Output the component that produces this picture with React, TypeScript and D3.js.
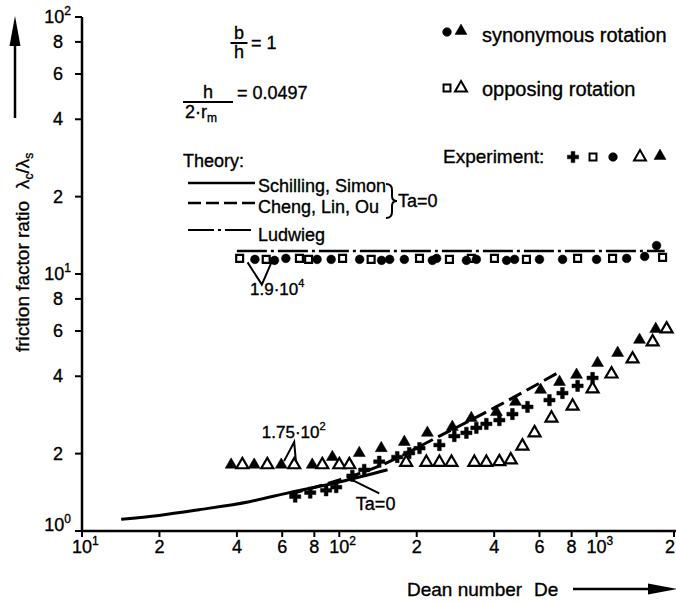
import React, { useEffect, useRef } from "react";
import * as d3 from "d3";

// values: [Dean number, lambda_c / lambda_s]
const upperOpenSquares: [number, number][] = [
	[41, 11.5], [52, 11.4], [70, 11.5], [76, 11.4], [103, 11.5], [133, 11.4],
	[205, 11.5], [268, 11.4], [326, 11.5], [401, 11.5], [534, 11.4], [844, 11.5],
	[1154, 11.5], [1806, 11.6],
];
const upperFilledCircles: [number, number][] = [
	[47, 11.4], [56, 11.3], [62, 11.5], [82, 11.4], [93, 11.4], [120, 11.4],
	[146, 11.3], [157, 11.4], [179, 11.4], [230, 11.3], [239, 11.5], [312, 11.3],
	[341, 11.4], [447, 11.3], [480, 11.4], [600, 11.4], [738, 11.4], [1000, 11.4],
	[1309, 11.5], [1538, 11.7], [1711, 12.9],
];
const lowerFilledTriangles: [number, number][] = [
	[38, 1.81], [46.7, 1.81], [59.5, 1.81], [78.5, 1.81], [94, 1.94], [119.6, 2.01],
	[145.6, 2.1], [179, 2.22], [220, 2.41], [275, 2.54], [326, 2.75], [408, 2.9],
	[484, 3.18], [606, 3.54], [718, 3.8], [836, 4.05], [1009, 4.5], [1208, 4.93],
	[1469, 5.54], [1698, 6.11],
];
const lowerOpenTriangles: [number, number][] = [
	[42, 1.81], [52.5, 1.81], [66.8, 1.81], [85.9, 1.81], [100, 1.81], [109.4, 1.81],
	[182, 1.85], [218, 1.85], [245, 1.85], [273, 1.85], [335, 1.85], [373, 1.85],
	[419, 1.86], [464, 1.89], [515, 2.14], [574, 2.41], [668, 2.75], [807, 3.06],
	[965, 3.57], [1143, 4.08], [1380, 4.67], [1652, 5.44], [1872, 6.11],
];
const crosses: [number, number][] = [
	[67.4, 1.36], [77.1, 1.41], [88.9, 1.44], [97.3, 1.48], [112.4, 1.64], [125, 1.73],
	[143, 1.86], [168, 1.94], [187, 2.01], [205, 2.1], [245, 2.16], [280, 2.34],
	[312, 2.41], [341, 2.52], [373, 2.61], [419, 2.7], [471, 2.85], [539, 3.04],
	[656, 3.23], [737, 3.44], [844, 3.67], [965, 3.94],
];

// theory curves
const schillingSimon: [number, number][] = [
	[14.2, 1.11], [19.9, 1.15], [28.5, 1.21], [44.7, 1.3], [63.9, 1.41], [100, 1.55], [154, 1.73],
];
const chengLinOu: [number, number][] = [
	[64, 1.39], [100, 1.58], [143, 1.79], [245, 2.34], [419, 3.09], [718, 4.16],
];
const ludwieg: [number, number][] = [
	[40, 12.3], [1840, 12.3],
];

const xTicks = [10, 20, 40, 60, 80, 100, 200, 400, 600, 800, 1000, 2000];
const xTickLabels = ["10^1", "2", "4", "6", "8", "10^2", "2", "4", "6", "8", "10^3", "2"];
const yTicks = [1, 2, 4, 6, 8, 10, 20, 40, 60, 80, 100];
const yTickLabels = ["10^0", "2", "4", "6", "8", "10^1", "2", "4", "6", "8", "10^2"];

const FONT = "'Liberation Sans', Arial, sans-serif";

export default function App() {
	const ref = useRef<SVGSVGElement>(null);

	useEffect(() => {
		const svg = d3.select(ref.current);
		svg.selectAll("*").remove();

		const x = d3.scaleLog().domain([10, 2000]).range([82, 674]);
		const y = d3.scaleLog().domain([1, 100]).range([531, 17]);

		const sym = (type: any, size: number) => d3.symbol().type(type).size(size)();
		const tri = sym(d3.symbolTriangle, 62);
		const circ = sym(d3.symbolCircle, 60);
		const sq = sym(d3.symbolSquare, 48);
		const cross = sym(d3.symbolCross, 70);

		// axes
		svg.append("line")
			.attr("x1", x(10)).attr("x2", 676)
			.attr("y1", y(1)).attr("y2", y(1))
			.attr("stroke", "#000").attr("stroke-width", 2.5);
		svg.append("line")
			.attr("x1", x(10)).attr("x2", x(10))
			.attr("y1", y(1) + 1).attr("y2", y(100))
			.attr("stroke", "#000").attr("stroke-width", 2.5);

		svg.selectAll(".xtick")
			.data(xTicks)
			.join("line")
			.attr("x1", (d) => x(d)).attr("x2", (d) => x(d))
			.attr("y1", y(1)).attr("y2", y(1) + 6)
			.attr("stroke", "#000").attr("stroke-width", 2);
		svg.selectAll(".ytick")
			.data(yTicks)
			.join("line")
			.attr("x1", x(10) - 7).attr("x2", x(10))
			.attr("y1", (d) => y(d)).attr("y2", (d) => y(d))
			.attr("stroke", "#000").attr("stroke-width", 2);

		const power = (t: any, label: string, supSize: number) => {
			const [base, exp] = label.split("^");
			t.append("tspan").text(base);
			if (exp) {
				t.append("tspan").text(exp).attr("font-size", supSize).attr("dy", -8);
			}
		};

		xTicks.forEach((v, i) => {
			const label = xTickLabels[i];
			const last = i === xTicks.length - 1;
			const t = svg.append("text")
				.attr("y", 553)
				.attr("font-size", 18)
				.attr("x", label.includes("^") ? x(v) - 10 : last ? 675 : x(v))
				.attr("text-anchor", label.includes("^") ? "start" : last ? "end" : "middle");
			power(t, label, 12);
		});
		yTicks.forEach((v, i) => {
			const label = yTickLabels[i];
			const t = svg.append("text")
				.attr("y", y(v) + 6 - (v === 1 ? 6 : 0))
				.attr("font-size", 18)
				.attr("x", label.includes("^") ? 71 : 63)
				.attr("text-anchor", "end");
			power(t, label, 12);
		});

		// axis titles
		const yt = svg.append("text")
			.attr("transform", "translate(29,352) rotate(-90)")
			.attr("font-size", 19);
		yt.append("tspan").text("friction factor ratio");
		yt.append("tspan").text("λ").attr("dx", 12);
		yt.append("tspan").text("c").attr("font-size", 12).attr("dy", 4);
		yt.append("tspan").text("/λ").attr("dy", -4);
		yt.append("tspan").text("s").attr("font-size", 12).attr("dy", 4);
		svg.append("line")
			.attr("x1", 15).attr("x2", 15).attr("y1", 118).attr("y2", 42)
			.attr("stroke", "#000").attr("stroke-width", 2.5);
		svg.append("path").attr("d", "M15,16 L9.5,46 L20.5,46 Z").attr("fill", "#000");

		svg.append("text").attr("x", 407).attr("y", 596).attr("font-size", 19)
			.text("Dean number");
		svg.append("text").attr("x", 534).attr("y", 596).attr("font-size", 19)
			.text("De");
		svg.append("line")
			.attr("x1", 573).attr("x2", 652).attr("y1", 589).attr("y2", 589)
			.attr("stroke", "#000").attr("stroke-width", 2.5);
		svg.append("path").attr("d", "M677,589 L648,583.5 L648,594.5 Z").attr("fill", "#000");

		// theory curves
		const line = d3.line<[number, number]>()
			.x((d) => x(d[0]))
			.y((d) => y(d[1]))
			.curve(d3.curveMonotoneX);
		svg.append("path").attr("d", line(schillingSimon))
			.attr("fill", "none").attr("stroke", "#000").attr("stroke-width", 3);
		svg.append("path").attr("d", line(chengLinOu))
			.attr("fill", "none").attr("stroke", "#000").attr("stroke-width", 3)
			.attr("stroke-dasharray", "14,6");
		svg.append("path").attr("d", line(ludwieg))
			.attr("fill", "none").attr("stroke", "#000").attr("stroke-width", 2.5)
			.attr("stroke-dasharray", "30,4,3,4");

		// experiment points
		const marks = (data: [number, number][], shape: string | null, open: boolean, cls: string) =>
			svg.selectAll("." + cls)
				.data(data)
				.join("path")
				.attr("class", cls)
				.attr("d", shape)
				.attr("transform", (d) => `translate(${x(d[0])},${y(d[1])})`)
				.attr("fill", open ? "#fff" : "#000")
				.attr("stroke", "#000")
				.attr("stroke-width", open ? 2.2 : 0.5);

		marks(upperOpenSquares, sq, true, "usq");
		marks(upperFilledCircles, circ, false, "uci");
		marks(lowerOpenTriangles, tri, true, "ltro");
		marks(crosses, cross, false, "lcr");
		marks(lowerFilledTriangles, tri, false, "ltrf");

		// annotations
		const ann = (pts: [number, number][]) =>
			svg.append("path")
				.attr("d", d3.line<[number, number]>().x((d) => x(d[0])).y((d) => y(d[1]))(pts))
				.attr("fill", "none").attr("stroke", "#000").attr("stroke-width", 2);
		ann([[44, 11.1], [50, 9.1], [54.5, 11.1]]);
		const a1 = svg.append("text").attr("x", x(45)).attr("y", y(8.3)).attr("font-size", 17);
		a1.append("tspan").text("1.9·10");
		a1.append("tspan").text("4").attr("font-size", 11).attr("dy", -8);

		ann([[61, 1.87], [66.8, 2.22], [67.8, 1.87]]);
		const a2 = svg.append("text").attr("x", x(50)).attr("y", y(2.3)).attr("font-size", 17);
		a2.append("tspan").text("1.75·10");
		a2.append("tspan").text("2").attr("font-size", 11).attr("dy", -8);

		ann([[112, 1.58], [143, 1.4]]);
		svg.append("text").attr("x", x(116)).attr("y", y(1.207)).attr("font-size", 18)
			.text("Ta=0");

		// legend, left block
		const frac = (cx: number, num: string, lineY: number, w: number) => {
			svg.append("line").attr("x1", cx - w / 2).attr("x2", cx + w / 2)
				.attr("y1", lineY).attr("y2", lineY).attr("stroke", "#000").attr("stroke-width", 2);
			svg.append("text").attr("x", cx).attr("y", lineY - 4).attr("text-anchor", "middle")
				.attr("font-size", 18).text(num);
		};
		frac(239, "b", 43, 17);
		svg.append("text").attr("x", 239).attr("y", 58).attr("text-anchor", "middle")
			.attr("font-size", 18).text("h");
		svg.append("text").attr("x", 251).attr("y", 49).attr("font-size", 18).text("= 1");

		frac(208, "h", 102, 50);
		const den = svg.append("text").attr("x", 185).attr("y", 118).attr("font-size", 18);
		den.append("tspan").text("2·r");
		den.append("tspan").text("m").attr("font-size", 12).attr("dy", 4);
		svg.append("text").attr("x", 237).attr("y", 99).attr("font-size", 18).text("= 0.0497");

		svg.append("text").attr("x", 183).attr("y", 167).attr("font-size", 18).text("Theory:");
		const legendLines = [
			{ y: 183, dash: null, w: 2.5, label: "Schilling, Simon", ty: 192 },
			{ y: 203, dash: "13,5", w: 2.5, label: "Cheng, Lin, Ou", ty: 213 },
			{ y: 230, dash: "26,4,3,4", w: 2.2, label: "Ludwieg", ty: 241 },
		];
		legendLines.forEach((l) => {
			svg.append("line").attr("x1", 188).attr("x2", 255)
				.attr("y1", l.y).attr("y2", l.y)
				.attr("stroke", "#000").attr("stroke-width", l.w)
				.attr("stroke-dasharray", l.dash);
			svg.append("text").attr("x", 258).attr("y", l.ty).attr("font-size", 18).text(l.label);
		});
		svg.append("path")
			.attr("d", "M386,184 Q392,184 392,190 L392,196 Q392,201 397,201 Q392,201 392,206 L392,212 Q392,218 386,218")
			.attr("fill", "none").attr("stroke", "#000").attr("stroke-width", 2);
		svg.append("text").attr("x", 398).attr("y", 207).attr("font-size", 18).text("Ta=0");

		// legend, right block
		const key = (path: string | null, kx: number, ky: number, open: boolean) =>
			svg.append("path").attr("d", path)
				.attr("transform", `translate(${kx},${ky})`)
				.attr("fill", open ? "#fff" : "#000")
				.attr("stroke", "#000").attr("stroke-width", open ? 2 : 0.5);
		key(circ, 447, 32, false);
		key(tri, 461, 31, false);
		svg.append("text").attr("x", 482).attr("y", 42).attr("font-size", 20).text("synonymous rotation");
		key(sq, 447, 88, true);
		key(tri, 461, 88, true);
		svg.append("text").attr("x", 482).attr("y", 96).attr("font-size", 20).text("opposing rotation");
		svg.append("text").attr("x", 443).attr("y", 163).attr("font-size", 19).text("Experiment:");
		key(cross, 573, 157, false);
		key(sq, 593, 157, true);
		key(circ, 613, 157, false);
		key(tri, 640, 157, true);
		key(tri, 660, 156, false);

		// scanned print is heavy: thicken all lettering a touch
		svg.selectAll("text").attr("stroke", "#000").attr("stroke-width", 0.35);
	}, []);

	return (
		<svg
			ref={ref}
			width={676}
			height={603}
			fontFamily={FONT}
			style={{ position: "absolute", left: 0, top: 0, background: "#fff" }}
		/>
	);
}
